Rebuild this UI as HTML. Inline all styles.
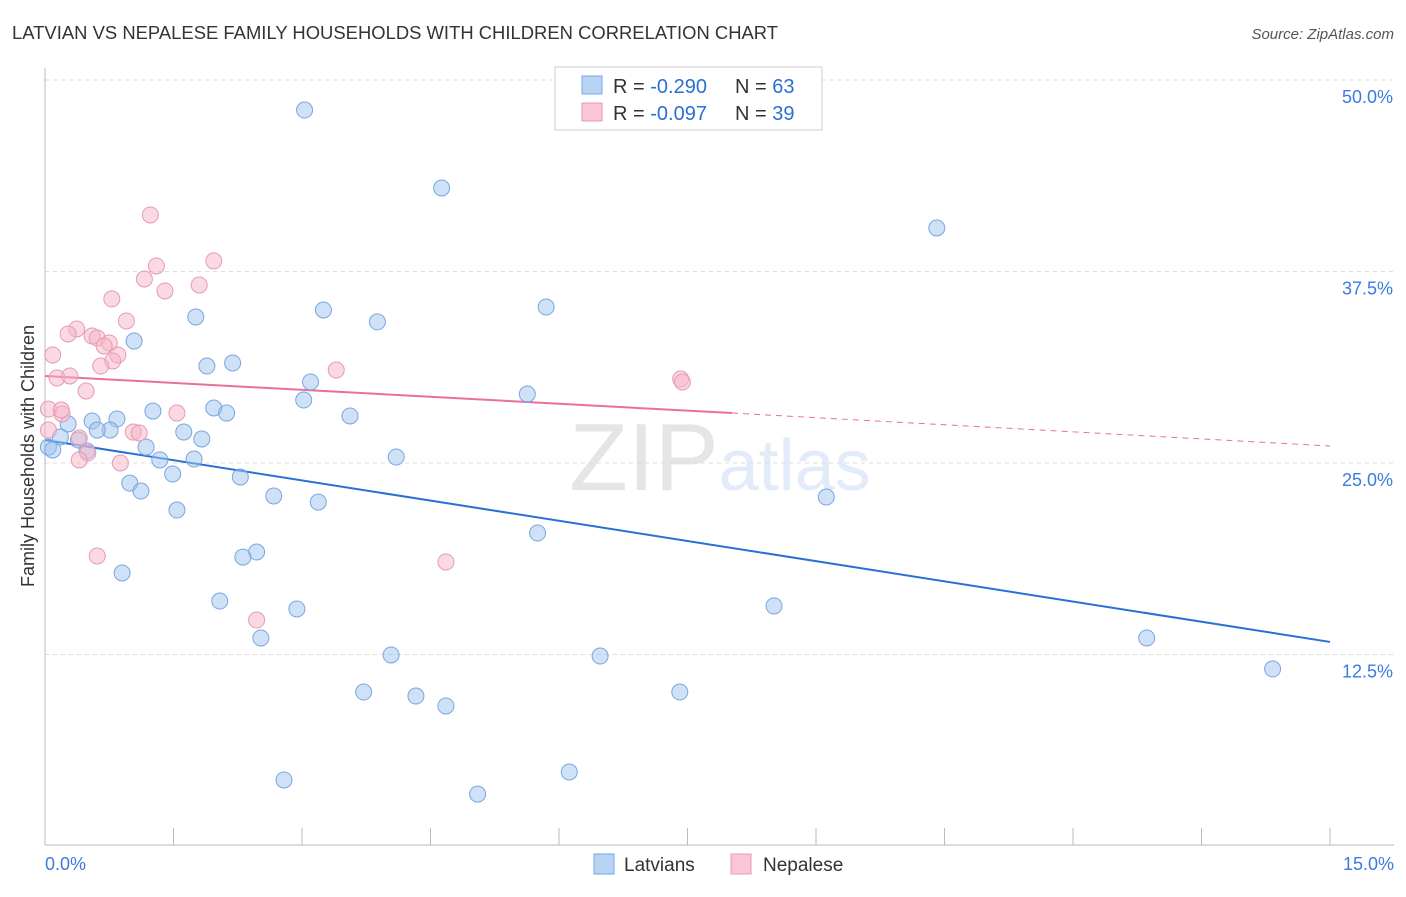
<!DOCTYPE html>
<html><head><meta charset="utf-8"><style>
body{margin:0;background:#fff;font-family:"Liberation Sans",sans-serif;}
svg text{font-family:"Liberation Sans",sans-serif;}
</style></head><body>
<svg id="chart" width="1406" height="892" viewBox="0 0 1406 892">
<text x="12" y="39" font-size="18.4" fill="#333" textLength="766">LATVIAN VS NEPALESE FAMILY HOUSEHOLDS WITH CHILDREN CORRELATION CHART</text>
<text x="1394" y="39" font-size="15" fill="#555" text-anchor="end" font-style="italic">Source: ZipAtlas.com</text>
<text x="720" y="490" font-size="96" text-anchor="middle" fill="#000" fill-opacity="0.1" font-family="Liberation Serif,serif">ZIP<tspan fill="#3b7be0" fill-opacity="0.15" font-family="Liberation Sans,sans-serif" font-size="72">atlas</tspan></text>
<text transform="translate(34,456) rotate(-90)" font-size="18" fill="#333" text-anchor="middle">Family Households with Children</text>
<g id="grid"></g><g id="axes"></g><g id="trend"></g><g id="pts"></g>
<g>
<rect x="555" y="67" width="267" height="63" fill="#fff" stroke="#ccc"/>
<rect x="582" y="76" width="20" height="18" fill="#b9d3f5" stroke="#7aa6e0"/>
<rect x="582" y="103" width="20" height="18" fill="#f9c6d5" stroke="#e89ab3"/>
<text x="613" y="93" font-size="20" fill="#333">R = <tspan fill="#2a6fd6">-0.290</tspan></text>
<text x="735" y="93" font-size="20" fill="#333">N = <tspan fill="#2a6fd6">63</tspan></text>
<text x="613" y="120" font-size="20" fill="#333">R = <tspan fill="#2a6fd6">-0.097</tspan></text>
<text x="735" y="120" font-size="20" fill="#333">N = <tspan fill="#2a6fd6">39</tspan></text>
</g>
<g>
<rect x="594" y="854" width="20" height="20" fill="#b9d3f5" stroke="#7aa6e0"/>
<text x="624" y="871" font-size="19" fill="#333">Latvians</text>
<rect x="731" y="854" width="20" height="20" fill="#f9c6d5" stroke="#e89ab3"/>
<text x="763" y="871" font-size="19" fill="#333">Nepalese</text>
</g>
</svg>
<script>
const yTicks=[12.5,25,37.5,50];
const yTickLabels=["12.5%","25.0%","37.5%","50.0%"];
const xTickCount=10;
const latX=[3.03,4.63,10.41,5.85,3.25,3.88,1.76,1.04,1.89,2.19,3.10,3.02,5.63,1.26,1.97,2.12,3.56,0.84,0.55,0.76,0.61,0.27,0.18,0.39,0.04,0.09,0.49,1.18,1.62,1.83,4.10,1.34,1.74,1.49,2.28,0.99,1.12,2.67,3.19,1.54,9.12,5.75,2.47,2.31,0.90,2.04,2.94,8.51,2.52,4.04,6.48,12.86,14.33,3.72,4.33,4.68,7.41,2.79,6.12,5.05];
const latY=[48.04,42.95,40.34,35.18,34.99,34.21,34.53,32.96,31.33,31.53,30.29,29.11,29.50,28.39,28.59,28.26,28.07,27.87,27.74,27.15,27.15,27.55,26.70,26.50,26.04,25.85,25.78,26.04,27.02,26.57,25.39,25.20,25.26,24.28,24.09,23.69,23.17,22.85,22.45,21.93,22.78,20.43,19.19,18.86,17.82,15.99,15.47,15.67,13.58,12.47,12.40,13.58,11.56,10.05,9.79,9.14,10.05,4.31,4.83,3.39];
const nepX=[1.23,1.30,1.97,1.16,1.80,1.40,0.78,0.95,0.37,0.27,0.55,0.61,0.75,0.69,0.09,0.85,0.79,0.65,3.40,7.42,7.44,0.14,0.29,0.48,0.04,0.20,0.19,1.54,1.03,1.10,0.40,0.50,0.40,0.88,0.61,4.68,2.47,0.04];
const nepY=[41.19,37.86,38.19,37.01,36.62,36.23,35.71,34.27,33.75,33.42,33.29,33.16,32.83,32.64,32.05,32.05,31.66,31.33,31.07,30.48,30.29,30.55,30.68,29.70,28.52,28.20,28.46,28.26,27.02,26.96,26.63,25.65,25.20,25.00,18.93,18.54,14.75,27.15];
const latTrend=[26.50,13.32];
const nepTrend=[30.68,28.26,26.11];
const nepSolidEnd=8.02;
const X0=45,X1=1330,Y50=80,PY=15.32;
const sx=v=>X0+(X1-X0)*v/15;
const sy=v=>Y50+(50-v)*PY;
const NS='http://www.w3.org/2000/svg';
function mk(tag,at,parent){const e=document.createElementNS(NS,tag);for(const k in at)e.setAttribute(k,at[k]);document.getElementById(parent).appendChild(e);return e;}
yTicks.forEach((t,i)=>{
 const l=mk('line',{x1:45,x2:1394,y1:sy(t),y2:sy(t),stroke:'#ddd','stroke-dasharray':'4,4'},'grid');
 
 
 const tx=mk('text',{x:1393,y:sy(t)+23,'font-size':18,fill:'#3b7be0','text-anchor':'end'},'grid');
 tx.textContent=yTickLabels[i];
 
 
});
let a=mk('line',{x1:45,x2:45,y1:68,y2:845,stroke:'#bbb'},'axes');


a=mk('line',{x1:45,x2:1394,y1:845,y2:845,stroke:'#bbb'},'axes');


for(let i=1;i<=xTickCount;i++){const t=mk('line',{x1:sx(i*1.5),x2:sx(i*1.5),y1:828,y2:845,stroke:'#bbb'},'axes');
 
 }
let xl=mk('text',{x:45,y:870,'font-size':18,fill:'#3b7be0'},'axes');xl.textContent='0.0%';


xl=mk('text',{x:1394,y:870,'font-size':18,fill:'#3b7be0','text-anchor':'end'},'axes');xl.textContent='15.0%';


function dots(xs,ys,fill,stroke,name){xs.forEach((x,i)=>{const c=mk('circle',{cx:sx(x),cy:sy(ys[i]),r:8,fill:fill,stroke:stroke,'stroke-width':1},'pts');
 
 });}
dots(latX,latY,'rgba(160,196,240,0.5)','#7aa6e0','latvian-point');
dots(nepX,nepY,'rgba(245,180,200,0.5)','#e89ab3','nepalese-point');
let tl=mk('line',{x1:sx(0),y1:sy(latTrend[0]),x2:sx(15),y2:sy(latTrend[1]),stroke:'#2a6fd6','stroke-width':2},'trend');


tl=mk('line',{x1:sx(0),y1:sy(nepTrend[0]),x2:sx(nepSolidEnd),y2:sy(nepTrend[1]),stroke:'#e8709a','stroke-width':2},'trend');


tl=mk('line',{x1:sx(nepSolidEnd),y1:sy(nepTrend[1]),x2:sx(15),y2:sy(nepTrend[2]),stroke:'#e8709a','stroke-width':1,'stroke-dasharray':'6,5'},'trend');


</script>
</body></html>
